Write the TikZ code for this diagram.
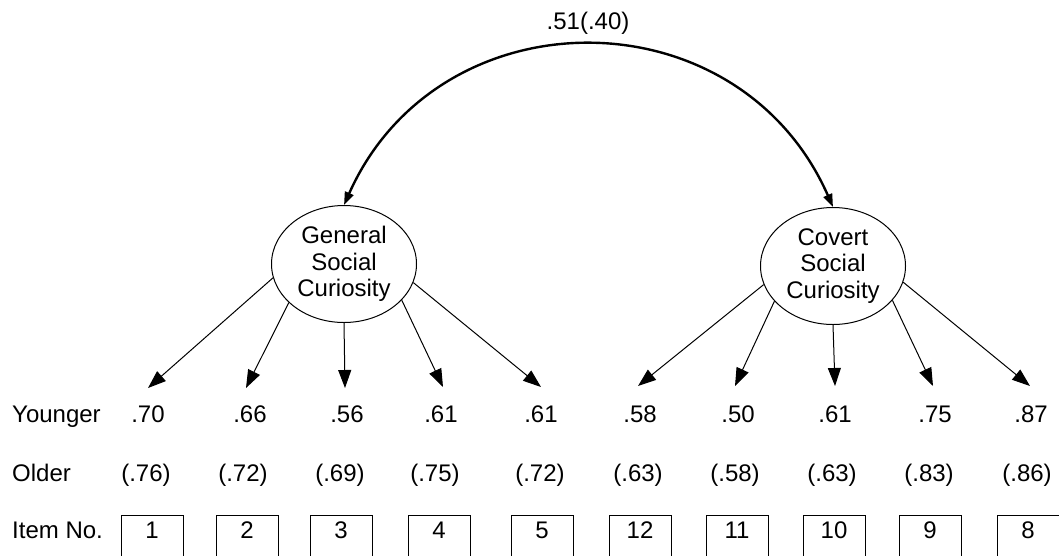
\documentclass[tikz,border=0pt]{standalone}
\usepackage{fontspec}
\setmainfont{Liberation Sans}
\usetikzlibrary{arrows.meta,shapes.geometric}
\begin{document}
\begin{tikzpicture}[x=1pt,y=-1pt,
  every node/.style={font=\fontsize{24}{26.5}\selectfont, inner sep=0pt},
  latent/.style={draw, ellipse, line width=1pt, minimum width=145pt, minimum height=117pt, align=center},
  load/.style={line width=1pt, -{Triangle[length=18pt,width=13pt]}},
  corr/.style={line width=2.4pt, {Triangle[length=13pt,width=9pt]}-{Triangle[length=13pt,width=9pt]}},
  val/.style={anchor=base},
  rowlab/.style={anchor=base west},
  itembox/.style={draw, line width=1pt, anchor=north, minimum width=62pt, inner xsep=0pt, inner ysep=6pt, text height=17pt, text depth=30pt}]
\useasboundingbox (0,0) rectangle (1059,555);
\clip (0,0) rectangle (1059,555);

% latent variables
\node[latent] (gsc) at (344,264) {General\\Social\\Curiosity};
\node[latent] (csc) at (833,266) {Covert\\Social\\Curiosity};

% correlation
\draw[corr] (gsc.north) .. controls (439,-8) and (738,-8) .. (csc.north);
\node (r) at (588,23) {.51(.40)};

% arrow tips
\coordinate (t1) at (148,388);
\coordinate (t2) at (246,388);
\coordinate (t3) at (345,388);
\coordinate (t4) at (443,387);
\coordinate (t5) at (541,387);
\coordinate (t6) at (638,386);
\coordinate (t7) at (735,386);
\coordinate (t8) at (835,386);
\coordinate (t9) at (933,386);
\coordinate (t10) at (1030,386);

\draw[load] (gsc.191) -- (t1);
\draw[load] (gsc.215) -- (t2);
\draw[load] (gsc.270) -- (t3);
\draw[load] (gsc.-32) -- (t4);
\draw[load] (gsc.-15) -- (t5);
\draw[load] (csc.195) -- (t6);
\draw[load] (csc.211) -- (t7);
\draw[load] (csc.270) -- (t8);
\draw[load] (csc.-30) -- (t9);
\draw[load] (csc.-13) -- (t10);

% row labels
\node[rowlab] (ly) at (12,422) {Younger};
\node[rowlab] (lo) at (12,481) {Older};
\node[rowlab] (li) at (12,538) {Item No.};

% younger values
\node[val] (y1) at (148,422) {.70};
\node[val] (y2) at (250,422) {.66};
\node[val] (y3) at (347,422) {.56};
\node[val] (y4) at (441,422) {.61};
\node[val] (y5) at (541,422) {.61};
\node[val] (y6) at (640,422) {.58};
\node[val] (y7) at (738,422) {.50};
\node[val] (y8) at (835,422) {.61};
\node[val] (y9) at (935,422) {.75};
\node[val] (y10) at (1031,422) {.87};

% older values
\node[val] (o1) at (146,481) {(.76)};
\node[val] (o2) at (243,481) {(.72)};
\node[val] (o3) at (340,481) {(.69)};
\node[val] (o4) at (435,481) {(.75)};
\node[val] (o5) at (540,481) {(.72)};
\node[val] (o6) at (638,481) {(.63)};
\node[val] (o7) at (735,481) {(.58)};
\node[val] (o8) at (832,481) {(.63)};
\node[val] (o9) at (929,481) {(.83)};
\node[val] (o10) at (1027,481) {(.86)};

% item boxes
\node[itembox] (b1) at (152,515) {1};
\node[itembox] (b2) at (247,515) {2};
\node[itembox] (b3) at (341,515) {3};
\node[itembox] (b4) at (439,515) {4};
\node[itembox] (b5) at (542,515) {5};
\node[itembox] (b6) at (640,515) {12};
\node[itembox] (b7) at (737,515) {11};
\node[itembox] (b8) at (834,515) {10};
\node[itembox] (b9) at (930,515) {9};
\node[itembox] (b10) at (1028,515) {8};
\end{tikzpicture}
\end{document}
